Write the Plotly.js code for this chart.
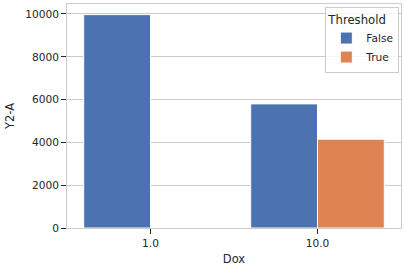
<!DOCTYPE html>
<html>
<head>
<meta charset="utf-8">
<script src="https://cdn.plot.ly/plotly-3.0.1.min.js"></script>
<style>html,body{margin:0;padding:0;background:#fff;}</style>
</head>
<body>
<div id="chart" style="width:405px;height:270px;"></div>
<script>
const doxCategories = ["1.0", "10.0"];
const thresholdLabels = ["False", "True"];
const valuesFalse = [9970, 5800];
const valuesTrue = [null, 4150];
const yTicks = [0, 2000, 4000, 6000, 8000, 10000];
const colors = ["#4c72b0", "#dd8452"];

const series = [valuesFalse, valuesTrue];
const traces = thresholdLabels.map((name, i) => ({
  type: "bar",
  name: name,
  x: doxCategories,
  y: series[i],
  marker: {color: colors[i], line: {color: "#ffffff", width: 1}},
  hoverinfo: "skip"
}));

const font = {family: "DejaVu Sans", color: "#262626"};
const layout = {
  width: 405, height: 270,
  margin: {l: 67, r: 4, t: 4, b: 42},
  paper_bgcolor: "#fff", plot_bgcolor: "#fff",
  barmode: "group", bargap: 0.2, bargroupgap: 0,
  font: Object.assign({size: 10.6}, font),
  showlegend: true,
  legend: {
    x: 0.995, y: 0.985, xanchor: "right", yanchor: "top",
    bgcolor: "rgba(255,255,255,0.8)", bordercolor: "#cccccc", borderwidth: 1,
    title: {text: "Threshold", font: Object.assign({size: 11.7}, font)},
    font: Object.assign({size: 10.6}, font),
    tracegroupgap: 0
  },
  xaxis: {
    type: "category",
    range: [-0.5, 1.5],
    showgrid: false,
    showline: true, mirror: true, linecolor: "#cccccc", linewidth: 1,
    ticks: "outside", ticklen: 5, tickwidth: 1, tickcolor: "#262626",
    tickfont: Object.assign({size: 10.6}, font),
    title: {text: "Dox", font: Object.assign({size: 11.5}, font), standoff: 7},
    zeroline: false
  },
  yaxis: {
    range: [0, 10467],
    tickvals: yTicks,
    ticktext: yTicks.map(String),
    showgrid: true, gridcolor: "#cccccc", gridwidth: 1,
    showline: true, mirror: true, linecolor: "#cccccc", linewidth: 1,
    ticks: "outside", ticklen: 5, tickwidth: 1, tickcolor: "#262626",
    tickfont: Object.assign({size: 10.6}, font),
    title: {text: "Y2-A", font: Object.assign({size: 11.5}, font), standoff: 8},
    zeroline: false
  }
};

Plotly.newPlot("chart", traces, layout, {displayModeBar: false, staticPlot: true});
</script>
</body>
</html>
